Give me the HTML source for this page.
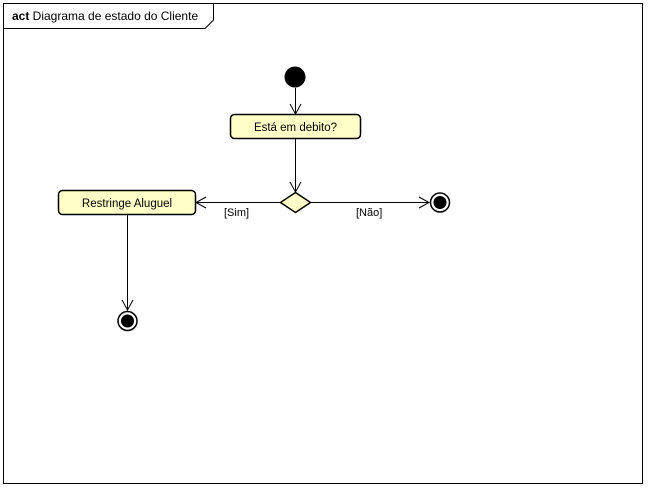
<!DOCTYPE html>
<html><head><meta charset="utf-8"><style>
body{margin:0;background:#fff;}
svg{display:block;font-family:"Liberation Sans",sans-serif;}
</style></head><body>
<svg width="652" height="490" viewBox="0 0 652 490">
<rect x="0" y="0" width="652" height="490" fill="#fff"/>
<rect x="3.5" y="3.5" width="639" height="480" fill="none" stroke="#000"/>
<path d="M3.5 28.5 H205 L213.5 20 V3.5" fill="none" stroke="#000"/>
<text x="12" y="20" font-size="12"><tspan font-weight="bold">act</tspan> Diagrama de estado do Cliente</text>
<circle cx="295" cy="77" r="10.5" fill="#000"/>
<g stroke="#000" fill="none">
<line x1="295.5" y1="88" x2="295.5" y2="114"/>
<polyline points="290,104 295.5,114 301,104"/>
<line x1="295.5" y1="138" x2="295.5" y2="192"/>
<polyline points="290,182 295.5,192 301,182"/>
<line x1="196" y1="202.5" x2="280" y2="202.5"/>
<polyline points="206,197 196,202.5 206,208"/>
<line x1="310" y1="202.5" x2="429" y2="202.5"/>
<polyline points="419,197 429,202.5 419,208"/>
<line x1="127.5" y1="214" x2="127.5" y2="310"/>
<polyline points="122,300 127.5,310 133,300"/>
</g>
<rect x="230.5" y="114.5" width="130" height="24" rx="4" fill="#ffffc8" stroke="#000" stroke-width="1.5"/>
<text x="295.5" y="131" font-size="11.5" text-anchor="middle">Está em debito?</text>
<rect x="58.5" y="190.5" width="137" height="24" rx="4" fill="#ffffc8" stroke="#000" stroke-width="1.5"/>
<text x="127" y="207" font-size="11.5" text-anchor="middle">Restringe Aluguel</text>
<polygon points="295.5,192.5 310.5,202.5 295.5,212.5 280.5,202.5" fill="#ffffc8" stroke="#000" stroke-width="1.5"/>
<text x="224" y="216" font-size="11">[Sim]</text>
<text x="356" y="216" font-size="11">[Não]</text>
<circle cx="440" cy="202.5" r="9.5" fill="#fff" stroke="#000" stroke-width="1.5"/>
<circle cx="440" cy="202.5" r="6.5" fill="#000"/>
<circle cx="127.5" cy="321" r="9.5" fill="#fff" stroke="#000" stroke-width="1.5"/>
<circle cx="127.5" cy="321" r="6.5" fill="#000"/>
</svg>
</body></html>
